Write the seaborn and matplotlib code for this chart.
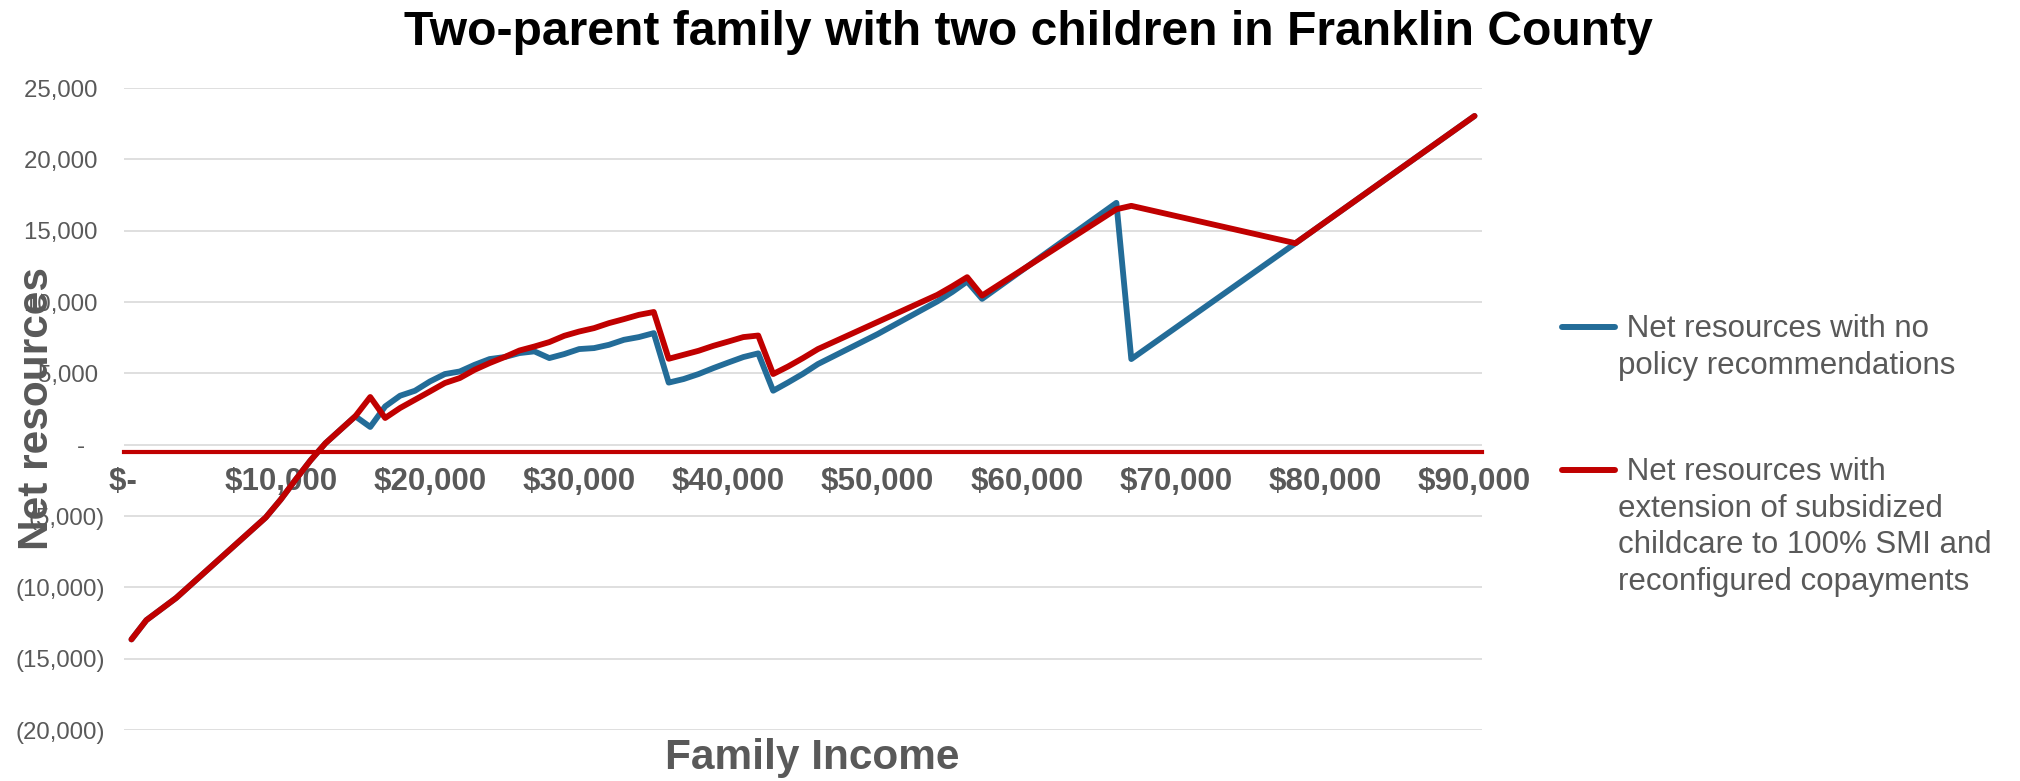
import matplotlib
matplotlib.use("Agg")
import matplotlib.pyplot as plt
from matplotlib.lines import Line2D
from matplotlib.ticker import FuncFormatter
import numpy as np
import pandas as pd
import seaborn as sns

# Annual family income (USD) at which net resources change slope
income = [0, 1000, 3000, 9000, 10000, 11000, 12000, 13000, 15000, 16000,
          17000, 18000, 19000, 20000, 21000, 22000, 23000, 24000, 25000, 26000,
          27000, 28000, 29000, 30000, 31000, 32000, 33000, 34000, 35000, 36000,
          37000, 38000, 39000, 40000, 41000, 42000, 43000, 44000, 45000, 46000,
          50000, 54000, 55000, 56000, 57000, 66000, 67000, 78000, 90000]

# Net resources with no policy recommendations
no_policy = [-13650, -12300, -10740, -5100, -3850, -2450, -1100, 100, 1990, 1240,
             2680, 3430, 3780, 4430, 4950, 5130, 5600, 6000, 6140, 6420,
             6540, 6070, 6350, 6700, 6770, 7000, 7350, 7540, 7820, 4350,
             4600, 4950, 5370, 5760, 6140, 6400, 3780, 4360, 4970, 5650,
             7750, 10040, 10700, 11440, 10220, 16950, 6000, 14120, 23040]

# Net resources with subsidized childcare extended to 100% SMI
extended_childcare = [-13650, -12300, -10740, -5100, -3850, -2450, -1100, 100, 1990, 3340,
                      1870, 2570, 3150, 3730, 4320, 4670, 5250, 5720, 6140, 6600,
                      6880, 7190, 7630, 7930, 8170, 8520, 8800, 9100, 9300, 6020,
                      6300, 6580, 6930, 7230, 7540, 7650, 4950, 5480, 6070, 6700,
                      8600, 10500, 11100, 11740, 10450, 16500, 16740, 14120, 23040]

series_labels = [" Net resources with no\npolicy recommendations",
                 " Net resources with\nextension of subsidized\nchildcare to 100% SMI and\nreconfigured copayments"]
series_colors = ["#236C98", "#C00000"]

x_ticks = list(range(0, 90001, 10000))
y_ticks = list(range(-20000, 25001, 5000))

title = "Two-parent family with two children in Franklin County"
x_title = "Family Income"
y_title = "Net resources"

df = pd.DataFrame({
    "income": income * 2,
    "value": no_policy + extended_childcare,
    "series": [series_labels[0]] * len(income) + [series_labels[1]] * len(income),
})

sns.set_theme(style="white")
plt.rcParams["font.family"] = ["Liberation Sans", "DejaVu Sans"]

GREY = "#595959"
fig = plt.figure(figsize=(20.2, 7.81), dpi=100)
ax = fig.add_axes([124 / 2020, 1 - 730 / 781, (1482 - 124) / 2020, (730 - 88) / 781])

sns.lineplot(data=df, x="income", y="value", hue="series",
             palette=dict(zip(series_labels, series_colors)),
             estimator=None, sort=False, linewidth=4.2, legend=False, ax=ax,
             solid_joinstyle="round", solid_capstyle="round")

ax.set_xlim(-500, 90500)
ax.set_ylim(-20000, 25000)

# the red horizontal axis sits just below zero; other spines hidden
for side in ("left", "top", "right"):
    ax.spines[side].set_visible(False)
ax.spines["bottom"].set_position(("data", -500))
ax.spines["bottom"].set_color("#C00000")
ax.spines["bottom"].set_linewidth(3)

# horizontal grid
ax.set_yticks(y_ticks)
ax.yaxis.grid(True, color="#D9D9D9", linewidth=1.2)
ax.xaxis.grid(False)
ax.set_axisbelow(True)


def fmt_y(v, _):
    v = int(round(v))
    if v == 0:
        return "-   "
    if v < 0:
        return f"({-v:,})"
    return f"{v:,} "


ax.yaxis.set_major_formatter(FuncFormatter(fmt_y))
ax.tick_params(axis="y", length=0, pad=14, labelsize=17.3, labelcolor=GREY)
ax.tick_params(axis="x", length=0, pad=11, labelsize=22.5, labelcolor=GREY)

ax.set_xticks(x_ticks)
ax.set_xticklabels(["$-  "] + [f"${t:,}" for t in x_ticks[1:]])
for lbl in ax.get_xticklabels():
    lbl.set_fontweight("bold")
    lbl.set_fontsize(22.5)
    lbl.set_color(GREY)

ax.set_xlabel(x_title, fontsize=30.5, fontweight="bold", color=GREY)
ax.xaxis.set_label_coords(0.507, -0.0125)
ax.set_ylabel(y_title, fontsize=30.5, fontweight="bold", color=GREY)
ax.yaxis.set_label_coords(-0.049, 0.5)

fig.text(1028 / 2020, 1 - 45 / 781, title, ha="center", va="baseline",
         fontsize=34.6, fontweight="bold", color="black")

# legend to the right of the plot: handle beside the first line of each label
legend_rows = [(327, 337), (470, 480)]
line_pitch = 36.7
for (line_y, base_y), label, color in zip(legend_rows, series_labels, series_colors):
    fig.add_artist(Line2D([1562 / 2020, 1615 / 2020], [1 - line_y / 781] * 2,
                          transform=fig.transFigure, color=color, linewidth=4.3,
                          solid_capstyle="round"))
    for i, text_line in enumerate(label.split("\n")):
        fig.text(1618 / 2020, 1 - (base_y + i * line_pitch) / 781, text_line,
                 ha="left", va="baseline", fontsize=22.5, color=GREY)

fig.savefig("out.png", dpi=100)
